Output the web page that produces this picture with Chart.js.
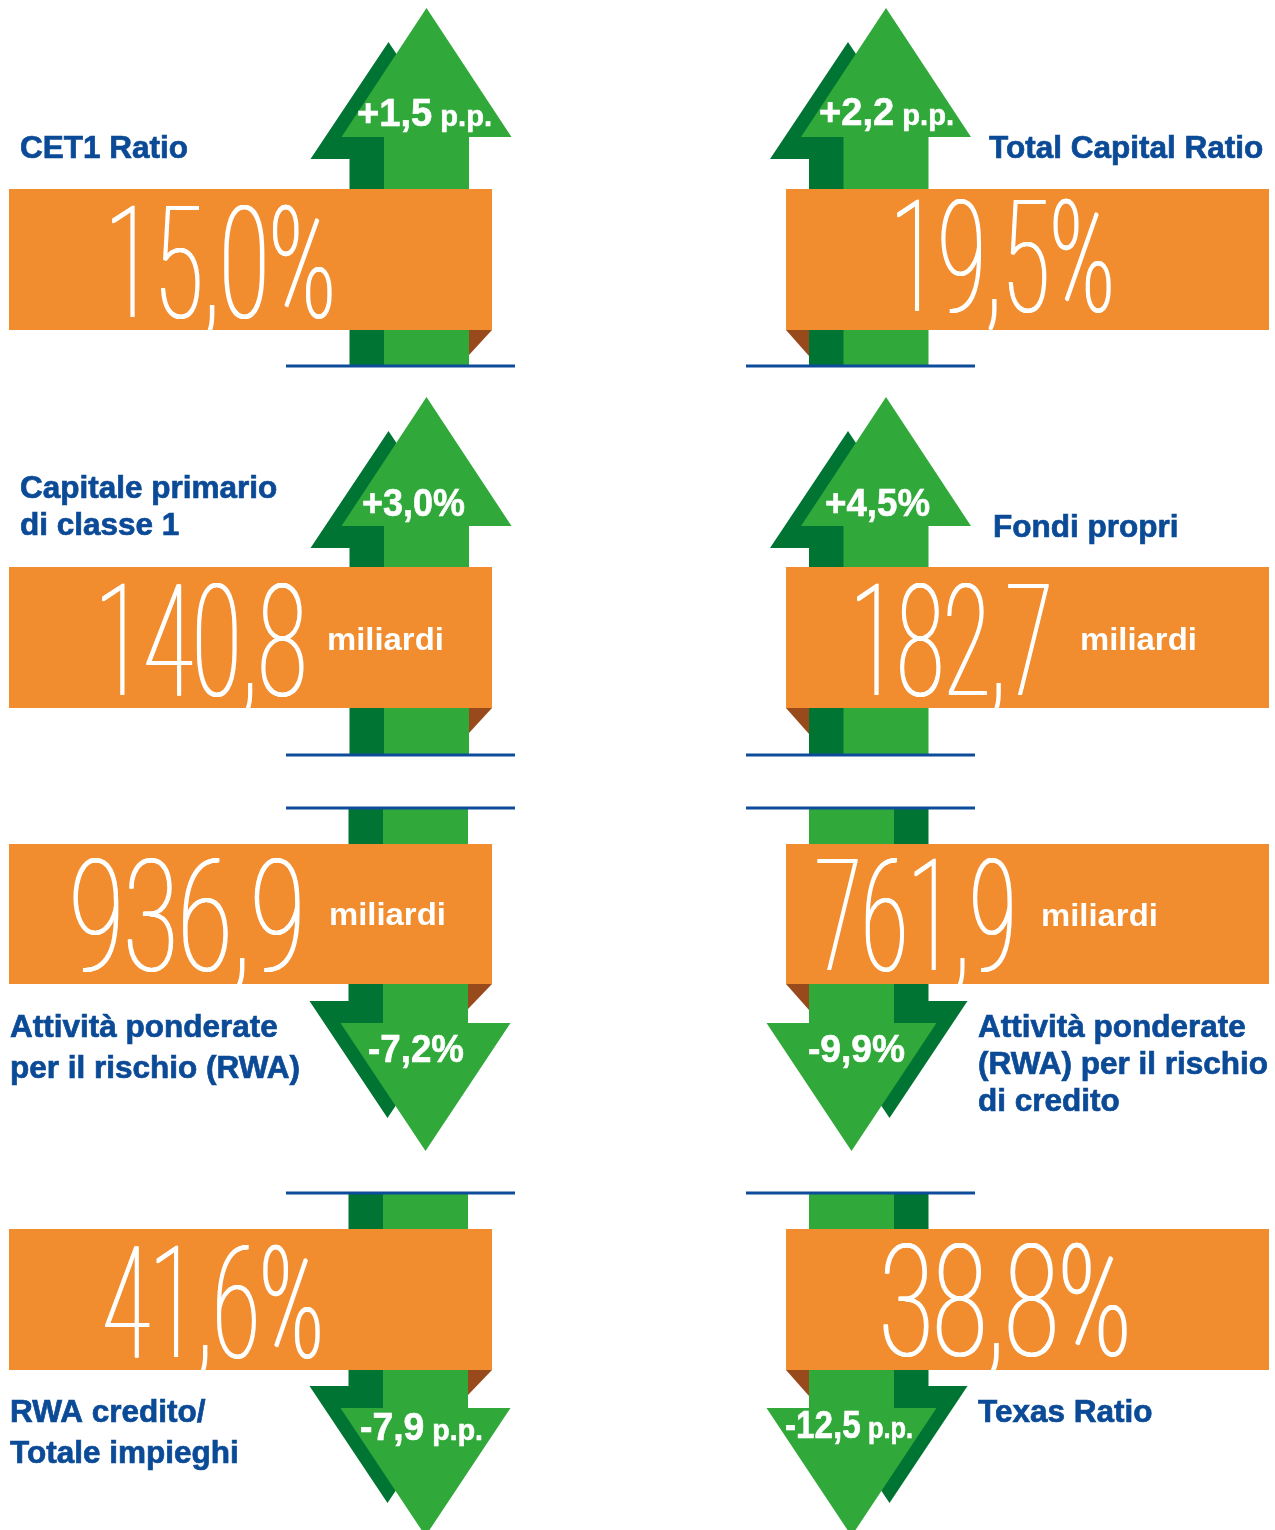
<!DOCTYPE html>
<html>
<head>
<meta charset="utf-8">
<script src="https://cdn.jsdelivr.net/npm/chart.js@4/dist/chart.umd.min.js"></script>
<style>
  html, body { margin: 0; padding: 0; background: #ffffff; }
  #wrap { width: 1275px; height: 1530px; }
</style>
</head>
<body>
<div id="wrap"><canvas id="c" width="1275" height="1530"></canvas></div>
<script>
// ---------------- DATA ----------------
const metricLabels = [
  ["CET1 Ratio"],
  ["Total Capital Ratio"],
  ["Capitale primario", "di classe 1"],
  ["Fondi propri"],
  ["Attività ponderate", "per il rischio (RWA)"],
  ["Attività ponderate", "(RWA) per il rischio", "di credito"],
  ["RWA credito/", "Totale impieghi"],
  ["Texas Ratio"]
];
const metricValues = [15.0, 19.5, 140.8, 182.7, 936.9, 761.9, 41.6, 38.8];
const valueUnits   = ["%", "%", "miliardi", "miliardi", "miliardi", "miliardi", "%", "%"];
const changeValues = [1.5, 2.2, 3.0, 4.5, -7.2, -9.9, -7.9, -12.5];
const changeUnits  = ["p.p.", "p.p.", "%", "%", "%", "%", "p.p.", "p.p."];

// ---------------- LAYOUT (positions / styles only) ----------------
const panelCol = [0, 1, 0, 1, 0, 1, 0, 1];
const panelRow = [0, 0, 1, 1, 2, 2, 3, 3];
const colBoxX  = [[9, 492], [786, 1269]];
const rowBoxY  = [[189, 330], [567, 708], [844, 984], [1229, 1370]];
const rowBaseY = [366, 755, 808, 1193];
const colLineX = [[286, 515], [746, 975]];
const arrowCenterUp   = [426.5, 886];
const arrowCenterDown = [425.5, 851.5];
const numberSpanX = [[112, 330], [897, 1109], [102, 302], [857, 1047], [73, 298], [817, 1010], [105, 318], [883, 1125]];
const numberBaseY = [317, 311, 695, 695, 970, 970, 1357, 1355];
const unitPos     = [null, null, [327, 650, 113], [1080, 650, 113], [329, 925, 113], [1041, 926, 113], null, null];
const changePos   = [[357, 126, 135], [819, 125, 135], [362, 516, 103], [825, 516, 105], [368, 1062, 96], [808, 1062, 97], [360, 1440, 123], [785, 1438, 128]];
const labelPos    = [[20, 158, 37], [989, 158, 37], [20, 498, 37], [993, 537, 37], [10, 1037, 41], [978, 1037, 37], [10, 1422, 41], [978, 1422, 41]];

const COLORS = {
  orange: '#F18D2F', light: '#30A93A', dark: '#007433',
  brown: '#994A1C', blue: '#0B4A96', line: '#0D4C9B', white: '#FFFFFF'
};
const BOLD = '"Liberation Sans", Arial, Roboto, sans-serif';

const fmt = v => Math.abs(v).toFixed(1).replace('.', ',');

const infographic = {
  id: 'infographic',
  afterDatasetsDraw(chart) {
    const ctx = chart.ctx;
    const xs = chart.scales.x, ys = chart.scales.y;
    const X = v => xs.getPixelForValue(v);
    const Y = v => ys.getPixelForValue(v);

    function poly(pts, color) {
      ctx.beginPath();
      pts.forEach((p, i) => i ? ctx.lineTo(X(p[0]), Y(p[1])) : ctx.moveTo(X(p[0]), Y(p[1])));
      ctx.closePath();
      ctx.fillStyle = color;
      ctx.fill();
    }

    metricValues.forEach((val, i) => {
      const col = panelCol[i], row = panelRow[i];
      const up = changeValues[i] > 0;
      const dir = up ? 1 : -1;
      const cx = up ? arrowCenterUp[col] : arrowCenterDown[col];
      const base = rowBaseY[row];
      const side = up ? -1 : (col === 0 ? -1 : 1);
      const g = up ? { hb: 229, tip: 358, db: 207, dt: 324 } : { hb: 215, tip: 343, db: 193, dt: 310 };
      const P = (lat, fwd) => [cx + lat, base - dir * fwd];
      const s = side;
      // shadow arrow
      poly([P(s * 77, 0), P(s * 77, g.db), P(s * 116, g.db), P(s * 38, g.dt), P(-s * 40, g.db), P(0, g.db), P(0, 0)], COLORS.dark);
      // main arrow
      poly([P(-42.5, 0), P(-42.5, g.hb), P(-85, g.hb), P(0, g.tip), P(85, g.hb), P(42.5, g.hb), P(42.5, 0)], COLORS.light);
      // baseline rule
      const lx = colLineX[col];
      ctx.fillStyle = COLORS.line;
      ctx.fillRect(X(lx[0]), Y(base) - 1.5, X(lx[1]) - X(lx[0]), 3);
      // orange box
      const bx = colBoxX[col], by = rowBoxY[row];
      ctx.fillStyle = COLORS.orange;
      ctx.fillRect(X(bx[0]), Y(by[0]), X(bx[1]) - X(bx[0]), Y(by[1]) - Y(by[0]));
      // fold
      if (col === 0) {
        const e = cx + 42.5;
        poly([[e, by[1]], [bx[1], by[1]], [e, by[1] + 25]], COLORS.brown);
      } else {
        const e = Math.min(cx - 42.5, side < 0 ? cx - 77 : cx - 42.5);
        poly([[bx[0], by[1]], [e, by[1]], [e, by[1] + 26]], COLORS.brown);
      }

      // big number
      const numText = fmt(val) + (valueUnits[i] === '%' ? '%' : '');
      ctx.save();
      ctx.font = '100 156px Roboto, "Open Sans", sans-serif';
      ctx.textBaseline = 'alphabetic';
      ctx.textAlign = 'left';
      const m = ctx.measureText(numText);
      const w = m.actualBoundingBoxLeft + m.actualBoundingBoxRight;
      const span = numberSpanX[i];
      const sx = (X(span[1]) - X(span[0])) / w;
      ctx.fillStyle = COLORS.white;
      for (const d of [0, 0.6, 1.2, 1.8]) {
        ctx.setTransform(sx, 0, 0, 1, X(span[0]) + m.actualBoundingBoxLeft * sx + d, Y(numberBaseY[i]));
        ctx.fillText(numText, 0, 0);
      }
      ctx.restore();

      // unit word
      if (unitPos[i]) {
        const u = unitPos[i];
        ctx.save();
        ctx.font = 'bold 31px ' + BOLD;
        const mu = ctx.measureText(valueUnits[i]);
        const su = u[2] / (mu.actualBoundingBoxLeft + mu.actualBoundingBoxRight);
        ctx.setTransform(su, 0, 0, 1, X(u[0]), Y(u[1]));
        ctx.fillStyle = COLORS.white;
        ctx.fillText(valueUnits[i], 0, 0);
        ctx.restore();
      }

      // change label inside arrow
      {
        const c = changePos[i];
        const main = (up ? '+' : '-') + fmt(changeValues[i]) + (changeUnits[i] === '%' ? '%' : '');
        const tail = changeUnits[i] === '%' ? '' : ' ' + changeUnits[i];
        ctx.save();
        const f1 = 'bold 38px ' + BOLD;
        const f2 = 'bold 29px ' + BOLD;
        ctx.font = f1; const w1 = ctx.measureText(main).width;
        ctx.font = f2; const w2 = tail ? ctx.measureText(tail).width : 0;
        const sc = c[2] / (w1 + w2);
        ctx.setTransform(sc, 0, 0, 1, X(c[0]), Y(c[1]));
        ctx.fillStyle = COLORS.white;
        ctx.strokeStyle = COLORS.white;
        ctx.lineWidth = 0.6;
        ctx.font = f1; ctx.fillText(main, 0, 0); ctx.strokeText(main, 0, 0);
        if (tail) { ctx.font = f2; ctx.fillText(tail, w1, 0); ctx.strokeText(tail, w1, 0); }
        ctx.restore();
      }

      // metric label
      {
        const l = labelPos[i];
        ctx.save();
        ctx.font = 'bold 31.5px ' + BOLD;
        ctx.fillStyle = COLORS.blue;
        ctx.strokeStyle = COLORS.blue;
        ctx.lineWidth = 0.7;
        ctx.textAlign = 'left';
        metricLabels[i].forEach((line, k) => {
          ctx.fillText(line, X(l[0]), Y(l[1] + k * l[2]));
          ctx.strokeText(line, X(l[0]), Y(l[1] + k * l[2]));
        });
        ctx.restore();
      }
    });
  }
};

new Chart(document.getElementById('c'), {
  type: 'scatter',
  data: {
    datasets: [{
      label: 'metrics',
      data: metricValues.map((v, i) => ({ x: arrowCenterUp[panelCol[i]], y: rowBaseY[panelRow[i]] })),
      pointRadius: 0
    }]
  },
  options: {
    responsive: false,
    animation: false,
    devicePixelRatio: 1,
    layout: { padding: 0 },
    events: [],
    plugins: { legend: { display: false }, tooltip: { enabled: false }, title: { display: false } },
    scales: {
      x: { type: 'linear', min: 0, max: 1275, display: false },
      y: { type: 'linear', min: 0, max: 1530, reverse: true, display: false }
    }
  },
  plugins: [infographic]
});
</script>
</body>
</html>
